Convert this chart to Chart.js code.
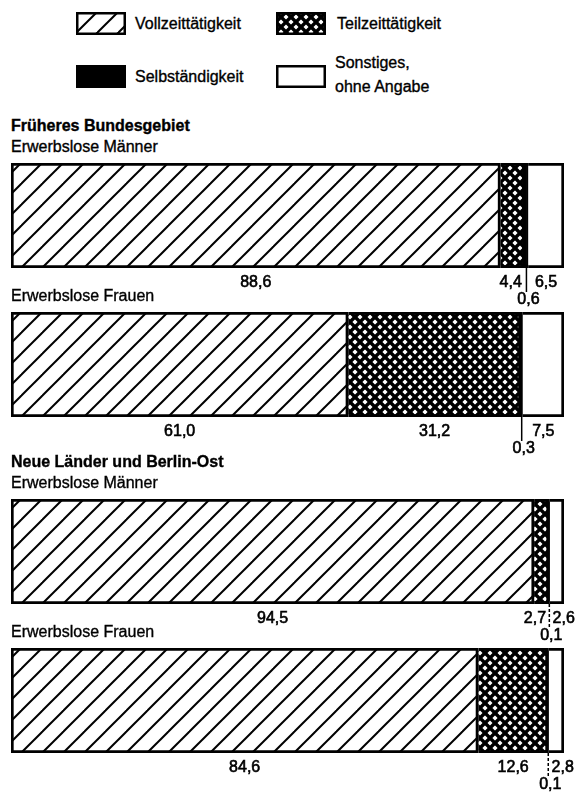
<!DOCTYPE html>
<html lang="de">
<head>
<meta charset="utf-8">
<title>Erwerbslose nach Art der gesuchten Tätigkeit</title>
<script src="https://cdn.jsdelivr.net/npm/chart.js@4.4.1/dist/chart.umd.min.js"></script>
<style>
  body { margin: 0; background: #fff; color: #000; font-family: "Liberation Sans", Arial, sans-serif; }
  #seite { position: relative; width: 579px; height: 795px; overflow: hidden; }
  .txt { position: absolute; font-size: 16px; line-height: 18px; white-space: nowrap; -webkit-text-stroke: 0.35px #000; }
  .fett { font-weight: bold; }
  .feld { position: absolute; }
  .panel { position: absolute; left: 0; }
</style>
</head>
<body>
<div id="seite"></div>
<script>
// Anteile in Prozent
const kategorien = ['Vollzeittätigkeit', 'Teilzeittätigkeit', 'Selbständigkeit', 'Sonstiges, ohne Angabe'];
const gebiete = ['Früheres Bundesgebiet', 'Neue Länder und Berlin-Ost'];
const gruppen = ['Erwerbslose Männer', 'Erwerbslose Frauen', 'Erwerbslose Männer', 'Erwerbslose Frauen'];
const vollzeit = [88.6, 61.0, 94.5, 84.6];
const teilzeit = [4.4, 31.2, 2.7, 12.6];
const selbstaendig = [0.6, 0.3, 0.1, 0.1];
const sonstiges = [6.5, 7.5, 2.6, 2.8];

const reihen = [vollzeit, teilzeit, selbstaendig, sonstiges];

// Layout
const seite = document.getElementById('seite');
const balkenOben = [163, 312, 499, 648];
const balkenHoehe = 105;
const unterRand = 50;

function schraffur() {
  const p = 21;
  const c = document.createElement('canvas');
  c.width = p; c.height = p;
  const g = c.getContext('2d');
  g.fillStyle = '#fff';
  g.fillRect(0, 0, p, p);
  g.strokeStyle = '#000';
  g.lineWidth = 2;
  for (let k = 0; k <= 2; k++) {
    g.beginPath();
    g.moveTo(k * p + p, -p);
    g.lineTo(k * p - 2 * p, 2 * p);
    g.stroke();
  }
  return g.createPattern(c, 'repeat');
}

function kreuzschraffur() {
  const q = 10;
  const c = document.createElement('canvas');
  c.width = q; c.height = q;
  const g = c.getContext('2d');
  g.fillStyle = '#fff';
  g.fillRect(0, 0, q, q);
  g.strokeStyle = '#000';
  g.lineWidth = 3.4;
  for (let k = -1; k <= 2; k++) {
    g.beginPath();
    g.moveTo(k * q + q, -q);
    g.lineTo(k * q - 2 * q, 2 * q);
    g.moveTo(k * q - q, -q);
    g.lineTo(k * q + 2 * q, 2 * q);
    g.stroke();
  }
  return g.createPattern(c, 'repeat');
}

const fuellungen = [schraffur(), kreuzschraffur(), '#000', '#fff'];

function text(inhalt, x, mitteY, fett) {
  const d = document.createElement('div');
  d.className = 'txt' + (fett ? ' fett' : '');
  d.style.left = x + 'px';
  d.style.top = (mitteY - 9) + 'px';
  d.innerHTML = inhalt;
  seite.appendChild(d);
  return d;
}

// Legende
const legPos = [[76, 12, 135, 24], [276, 12, 337, 24], [76, 65, 135, 77], [276, 65, 335, 63]];
kategorien.forEach((name, k) => {
  const [sx, sy, tx, ty] = legPos[k];
  const c = document.createElement('canvas');
  c.className = 'feld';
  c.width = 50; c.height = 23;
  c.style.left = sx + 'px';
  c.style.top = sy + 'px';
  const g = c.getContext('2d');
  g.fillStyle = fuellungen[k];
  g.fillRect(0, 0, 50, 23);
  g.strokeStyle = '#000';
  g.lineWidth = 2.5;
  g.strokeRect(1.25, 1.25, 47.5, 20.5);
  seite.appendChild(c);
  const t = text(name.replace(', ', ',<br>'), tx, ty, false);
  t.style.lineHeight = '24px';
  t.style.top = (ty - 12) + 'px';
});

// Werte unter den Balken
const wertLabels = {
  id: 'wertLabels',
  afterDatasetsDraw(chart) {
    const ctx = chart.ctx;
    const n = chart.data.datasets.length;
    ctx.save();
    ctx.font = '16px "Liberation Sans", Arial, sans-serif';
    ctx.fillStyle = '#000';
    ctx.textBaseline = 'middle';
    const schreib = (t, x, y) => {
      ctx.fillText(t, x, y);
      ctx.lineWidth = 0.6;
      ctx.strokeText(t, x, y);
    };
    chart.data.datasets.forEach((ds, k) => {
      const bar = chart.getDatasetMeta(k).data[0];
      const links = Math.min(bar.base, bar.x);
      const rechts = Math.max(bar.base, bar.x);
      const unten = bar.y + bar.height / 2;
      const wert = ds.data[0];
      const t = wert.toFixed(1).replace('.', ',');
      const breite = ctx.measureText(t).width;
      ctx.strokeStyle = '#000';
      if (k === 2) {
        const mx = (links + rechts) / 2;
        ctx.lineWidth = 1.5;
        ctx.setLineDash(wert < 0.2 ? [3, 2] : []);
        ctx.beginPath();
        ctx.moveTo(mx, unten);
        ctx.lineTo(mx, unten + 24);
        ctx.stroke();
        ctx.setLineDash([]);
        ctx.textAlign = 'center';
        schreib(t, mx + 2, unten + 32);
      } else if (breite + 4 <= rechts - links) {
        ctx.textAlign = 'center';
        schreib(t, (links + rechts) / 2, unten + 15);
      } else if (k === n - 1) {
        ctx.textAlign = 'left';
        schreib(t, links + 3, unten + 15);
      } else {
        ctx.textAlign = 'right';
        schreib(t, rechts - 3, unten + 15);
      }
    });
    ctx.restore();
  }
};

gruppen.forEach((gruppe, i) => {
  if (i % 2 === 0) text(gebiete[i / 2], 11, balkenOben[i] - 37, true);
  text(gruppe, 11, balkenOben[i] - 16, false);

  const div = document.createElement('div');
  div.className = 'panel';
  div.style.top = balkenOben[i] + 'px';
  const canvas = document.createElement('canvas');
  canvas.width = 579;
  canvas.height = balkenHoehe + unterRand;
  div.appendChild(canvas);
  seite.appendChild(div);

  const summe = reihen.reduce((s, r) => s + r[i], 0);

  new Chart(canvas, {
    type: 'bar',
    data: {
      labels: [gruppe],
      datasets: reihen.map((werte, k) => ({
        label: kategorien[k],
        data: [werte[i]],
        backgroundColor: fuellungen[k],
        borderColor: '#000',
        borderWidth: 3,
        borderSkipped: k === 0 ? false : 'start',
        barPercentage: 1,
        categoryPercentage: 1
      }))
    },
    options: {
      indexAxis: 'y',
      responsive: false,
      animation: false,
      layout: { padding: { left: 11, right: 15, top: 0, bottom: unterRand } },
      scales: {
        x: { stacked: true, display: false, min: 0, max: summe },
        y: { stacked: true, display: false }
      },
      plugins: {
        legend: { display: false },
        tooltip: { enabled: false }
      }
    },
    plugins: [wertLabels]
  });
});
</script>
</body>
</html>
